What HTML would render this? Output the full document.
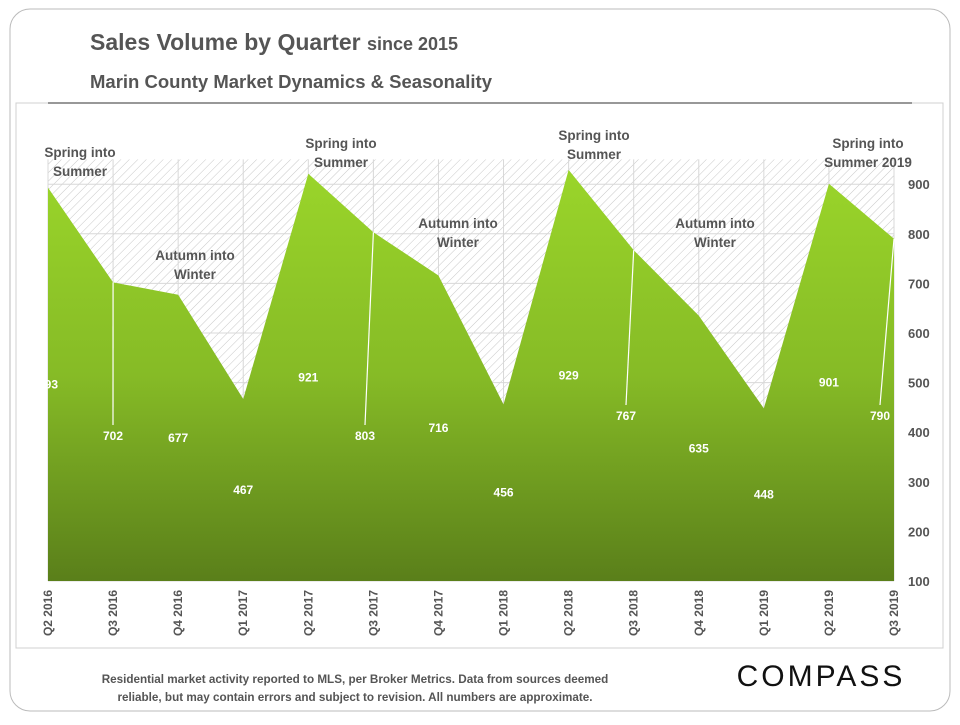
<!DOCTYPE html>
<html><head><meta charset="utf-8"><style>
body{margin:0;background:#fff;font-family:"Liberation Sans",sans-serif}
svg text{font-family:"Liberation Sans",sans-serif}
</style></head><body>
<svg width="960" height="720" viewBox="0 0 960 720">
<defs>
<pattern id="hatch" width="6" height="6" patternUnits="userSpaceOnUse" patternTransform="rotate(45)">
<rect width="6" height="6" fill="#fff"/><line x1="0" y1="0" x2="0" y2="6" stroke="#c8c8c8" stroke-width="1"/>
</pattern>
<linearGradient id="grn" x1="0" y1="0" x2="0" y2="1">
<stop offset="0" stop-color="#9ad52a"/><stop offset="0.5" stop-color="#86bb26"/><stop offset="1" stop-color="#5a7f1a"/>
</linearGradient>
</defs>
<rect x="10" y="9" width="940" height="702" rx="20" fill="none" stroke="#bbb"/>
<rect x="16" y="103" width="927" height="545" fill="#fff" stroke="#d0d0d0"/>
<text x="90" y="50" font-size="23" font-weight="bold" fill="#555">Sales Volume by Quarter <tspan font-size="18">since 2015</tspan></text>
<text x="90" y="88" font-size="18.5" font-weight="bold" fill="#555">Marin County Market Dynamics &amp; Seasonality</text>
<line x1="48" y1="103" x2="912" y2="103" stroke="#777" stroke-width="1.5"/>
<g id="plot"></g>
<text x="355" y="683" font-size="11.7" font-weight="bold" fill="#555" text-anchor="middle">Residential market activity reported to MLS, per Broker Metrics. Data from sources deemed</text>
<text x="355" y="701" font-size="11.7" font-weight="bold" fill="#555" text-anchor="middle">reliable, but may contain errors and subject to revision. All numbers are approximate.</text>
<text x="821" y="686" font-size="30" fill="#111" text-anchor="middle" letter-spacing="3">COMPASS</text>
</svg>
<script>
const categories=["Q2 2016","Q3 2016","Q4 2016","Q1 2017","Q2 2017","Q3 2017","Q4 2017","Q1 2018","Q2 2018","Q3 2018","Q4 2018","Q1 2019","Q2 2019","Q3 2019"];
const values=[893,702,677,467,921,803,716,456,929,767,635,448,901,790];
const yTicks=[100,200,300,400,500,600,700,800,900];
const annotations=[
{t:["Spring into","Summer"],x:80,y:157},
{t:["Autumn into","Winter"],x:195,y:260},
{t:["Spring into","Summer"],x:341,y:148},
{t:["Autumn into","Winter"],x:458,y:228},
{t:["Spring into","Summer"],x:594,y:140},
{t:["Autumn into","Winter"],x:715,y:228},
{t:["Spring into","Summer 2019"],x:868,y:148}];
const leaders=[[1,113,425],[5,365,425],[9,626,405],[13,880,405]];
const NS="http://www.w3.org/2000/svg";
const g=document.getElementById('plot');
const x0=48,x1=894,yMin=100,yMax=950,yB=581,pxPer=0.496;
const X=i=>x0+(x1-x0)*i/(categories.length-1);
const Y=v=>yB-(v-yMin)*pxPer;
function mk(tag,a){const e=document.createElementNS(NS,tag);for(const k in a)e.setAttribute(k,a[k]);g.appendChild(e);return e;}
let bg=mk('rect',{x:x0,y:Y(yMax),width:x1-x0,height:yB-Y(yMax),fill:'url(#hatch)'});


yTicks.forEach(t=>{let l=mk('line',{x1:x0,x2:x1,y1:Y(t),y2:Y(t),stroke:'#d8d8d8'});


let tx=mk('text',{x:908,y:Y(t)+5,'font-size':13,'font-weight':'bold',fill:'#555'});tx.textContent=t;

});
categories.forEach((c,i)=>{let l=mk('line',{x1:X(i),x2:X(i),y1:Y(yMax),y2:yB,stroke:'#d8d8d8'});


let tx=mk('text',{x:0,y:0,'font-size':12,'font-weight':'bold',fill:'#555','text-anchor':'end',transform:`translate(${X(i)+4},590) rotate(-90)`});tx.textContent=c;

});
let d=`M${X(0)},${yB}`+values.map((v,i)=>` L${X(i)},${Y(v)}`).join('')+` L${X(values.length-1)},${yB} Z`;
let area=mk('path',{d:d,fill:'url(#grn)'});


const leaderMap={};
leaders.forEach(([i,lx,ly])=>{leaderMap[i]=[lx,ly];let l=mk('line',{x1:X(i),y1:Y(values[i]),x2:lx,y2:ly,stroke:'#fff','stroke-width':1.2});

});
values.forEach((v,i)=>{let lx=X(i),ly=(Y(v)+yB)/2+4;if(leaderMap[i]){lx=leaderMap[i][0];ly=leaderMap[i][1]+15;}
let tx=mk('text',{x:lx,y:ly,'font-size':12,'font-weight':'bold',fill:'#fff','text-anchor':'middle'});tx.textContent=v;

});
annotations.forEach(a=>{a.t.forEach((s,k)=>{let tx=mk('text',{x:a.x,y:a.y+k*19,'font-size':13.5,'font-weight':'bold',fill:'#555','text-anchor':'middle'});tx.textContent=s;

});});
</script>
</body></html>
